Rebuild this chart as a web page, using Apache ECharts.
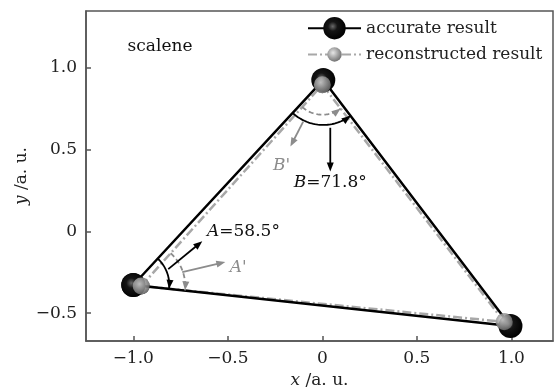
<!DOCTYPE html>
<html>
<head>
<meta charset="utf-8">
<script src="https://cdn.jsdelivr.net/npm/echarts@6/dist/echarts.min.js"></script>
<style>
html,body{margin:0;padding:0;background:#fff}
#main{width:557px;height:388px}
</style>
</head>
<body>
<div id="main"></div>
<script>
// vertices A, B, C
var accX = [-1.0, 0.005, 0.995];
var accY = [-0.328, 0.924, -0.578];
var recX = [-0.958, 0.0, 0.962];
var recY = [-0.334, 0.895, -0.553];
var xTicks = [-1.0, -0.5, 0, 0.5, 1.0];
var yTicks = [-0.5, 0, 0.5, 1.0];
var names = ['accurate result', 'reconstructed result'];

// annotation arrows [x1, y1, x2, y2] (data units)
var arrowBlack = [[-0.815, -0.231, -0.635, -0.061], [0.042, 0.632, 0.042, 0.365]];
var arrowGray = [[-0.741, -0.249, -0.513, -0.188], [-0.101, 0.669, -0.169, 0.517]];
// annotation texts
var noteText = ['scalene', '{i|A}=58.5°', "{i|A'}", '{i|B}=71.8°', "{i|B'}"];
var noteX = [-1.03, -0.61, -0.49, 0.042, -0.215];
var noteY = [1.13, 0.0, -0.22, 0.298, 0.40];

var FONT = 'DejaVu Serif';
var FS = 17;

function loop(xs, ys) {
	var out = [];
	for (var i = 0; i < xs.length; i++) out.push([xs[i], ys[i]]);
	out.push([xs[0], ys[0]]);
	return out;
}
function pts(xs, ys) {
	var out = [];
	for (var i = 0; i < xs.length; i++) out.push([xs[i], ys[i]]);
	return out;
}

var blackBall = {
	type: 'radial', x: 0.42, y: 0.42, r: 0.6,
	colorStops: [{offset: 0, color: '#6a6a6a'}, {offset: 0.35, color: '#151515'}, {offset: 1, color: '#000'}]
};
var grayBall = {
	type: 'radial', x: 0.4, y: 0.38, r: 0.65,
	colorStops: [{offset: 0, color: '#e6e6e6'}, {offset: 0.55, color: '#a2a2a2'}, {offset: 1, color: '#6e6e6e'}]
};

function fmt(v) {
	if (v === 0) return '0';
	return (v < 0 ? '\u2212' : '') + Math.abs(v).toFixed(1);
}

function renderNotes(params, api) {
	var kids = [];
	function P(x, y) { return api.coord([x, y]); }
	function head(tip, ang, color) {
		var len = 9, w = 3.5;
		var bx = tip[0] - Math.cos(ang) * len, by = tip[1] - Math.sin(ang) * len;
		var nx = -Math.sin(ang) * w, ny = Math.cos(ang) * w;
		kids.push({type: 'polygon', shape: {points: [tip, [bx + nx, by + ny], [bx - nx, by - ny]]},
			style: {fill: color}});
	}
	function arrow(a, color) {
		var p1 = P(a[0], a[1]), p2 = P(a[2], a[3]);
		var ang = Math.atan2(p2[1] - p1[1], p2[0] - p1[0]);
		kids.push({type: 'line', shape: {x1: p1[0], y1: p1[1], x2: p2[0] - Math.cos(ang) * 6, y2: p2[1] - Math.sin(ang) * 6},
			style: {stroke: color, lineWidth: 1.8}});
		head(p2, ang, color);
	}
	function arc(xs, ys, c, b, e, r, color, dash) {
		var o = P(xs[c], ys[c]), pb = P(xs[b], ys[b]), pe = P(xs[e], ys[e]);
		var a0 = Math.atan2(pb[1] - o[1], pb[0] - o[0]);
		var a1 = Math.atan2(pe[1] - o[1], pe[0] - o[0]);
		var d = a1 - a0;
		while (d > Math.PI) d -= 2 * Math.PI;
		while (d < -Math.PI) d += 2 * Math.PI;
		var line = [];
		for (var i = 0; i <= 40; i++) {
			var a = a0 + d * i / 40;
			line.push([o[0] + r * Math.cos(a), o[1] + r * Math.sin(a)]);
		}
		kids.push({type: 'polyline', shape: {points: line},
			style: {stroke: color, lineWidth: 1.8, fill: null, lineDash: dash ? [5, 3] : null}});
		var ae = a0 + d;
		var s = d > 0 ? 1 : -1;
		var tang = Math.atan2(Math.cos(ae) * s, -Math.sin(ae) * s);
		head(line[line.length - 1], tang, color);
	}
	// angle A
	arc(recX, recY, 0, 1, 2, 44, '#8c8c8c', true);
	arc(accX, accY, 0, 1, 2, 36, '#000', false);
	// angle B
	arc(recX, recY, 1, 0, 2, 30, '#8c8c8c', true);
	arc(accX, accY, 1, 0, 2, 45, '#000', false);
	for (var i = 0; i < arrowBlack.length; i++) arrow(arrowBlack[i], '#000');
	for (var j = 0; j < arrowGray.length; j++) arrow(arrowGray[j], '#8c8c8c');

	var aligns = ['left', 'left', 'left', 'center', 'center'];
	var colors = ['#111', '#111', '#8c8c8c', '#111', '#8c8c8c'];
	for (var k = 0; k < noteText.length; k++) {
		var p = P(noteX[k], noteY[k]);
		kids.push({type: 'text', x: p[0], y: p[1], style: {
			text: noteText[k], fill: colors[k], fontFamily: FONT, fontSize: FS,
			align: aligns[k], verticalAlign: 'middle',
			rich: {i: {fontStyle: 'italic', fontFamily: FONT, fontSize: FS, fill: colors[k]}}
		}});
	}
	return {type: 'group', children: kids};
}

var chart = echarts.init(document.getElementById('main'));
var labelFont = {fontFamily: FONT, fontSize: FS, color: '#222'};

chart.setOption({
	animation: false,
	backgroundColor: '#fff',
	grid: {left: 86, right: 4, top: 11, bottom: 47, show: true, borderColor: '#555', borderWidth: 1.5,
		containLabel: false, outerBoundsMode: 'none'},
	legend: [{
		data: [names[0]], left: 307, top: 17, itemWidth: 53, itemHeight: 28, padding: 0,
		selectedMode: false, textStyle: labelFont
	}, {
		data: [names[1]], left: 307, top: 46, itemWidth: 53, itemHeight: 18, padding: 0,
		selectedMode: false, textStyle: labelFont
	}],
	xAxis: {
		type: 'value', min: -1.25, max: 1.22,
		name: '{i|x} /a. u.', nameLocation: 'middle', nameGap: 30,
		nameTextStyle: {fontFamily: FONT, fontSize: FS, color: '#222',
			rich: {i: {fontStyle: 'italic', fontFamily: FONT, fontSize: FS, color: '#222'}}},
		axisLine: {show: true, onZero: false, lineStyle: {color: '#555', width: 1.5}},
		axisTick: {inside: true, length: 5, customValues: xTicks, lineStyle: {color: '#555', width: 1.5}},
		axisLabel: {customValues: xTicks, formatter: fmt, margin: 9, fontFamily: FONT, fontSize: FS, color: '#222'},
		splitLine: {show: false}
	},
	yAxis: {
		type: 'value', min: -0.67, max: 1.345,
		name: '{i|y} /a. u.', nameLocation: 'middle', nameGap: 56, nameMoveOverlap: false,
		nameTextStyle: {fontFamily: FONT, fontSize: FS, color: '#222',
			rich: {i: {fontStyle: 'italic', fontFamily: FONT, fontSize: FS, color: '#222'}}},
		axisLine: {show: true, onZero: false, lineStyle: {color: '#555', width: 1.5}},
		axisTick: {inside: true, length: 5, customValues: yTicks, lineStyle: {color: '#555', width: 1.5}},
		axisLabel: {customValues: yTicks, formatter: fmt, margin: 9, fontFamily: FONT, fontSize: FS, color: '#222'},
		splitLine: {show: false}
	},
	series: [{
		name: names[1], type: 'line', z: 1,
		data: loop(recX, recY),
		symbol: 'circle', symbolSize: 17, showSymbol: true,
		itemStyle: {color: grayBall},
		lineStyle: {color: '#a8a8a8', width: 2.5, type: [9, 3, 2, 3]}
	}, {
		name: names[0], type: 'line', z: 2,
		data: loop(accX, accY),
		symbol: 'circle', symbolSize: 24, showSymbol: true,
		itemStyle: {color: blackBall},
		lineStyle: {color: '#000', width: 2.5}
	}, {
		name: names[1], type: 'scatter', z: 3,
		data: pts(recX, recY),
		symbol: 'circle', symbolSize: 17,
		itemStyle: {color: grayBall}
	}, {
		type: 'custom', z: 4, silent: true, clip: false,
		data: [[0, 0]],
		renderItem: renderNotes
	}]
});
</script>
</body>
</html>
